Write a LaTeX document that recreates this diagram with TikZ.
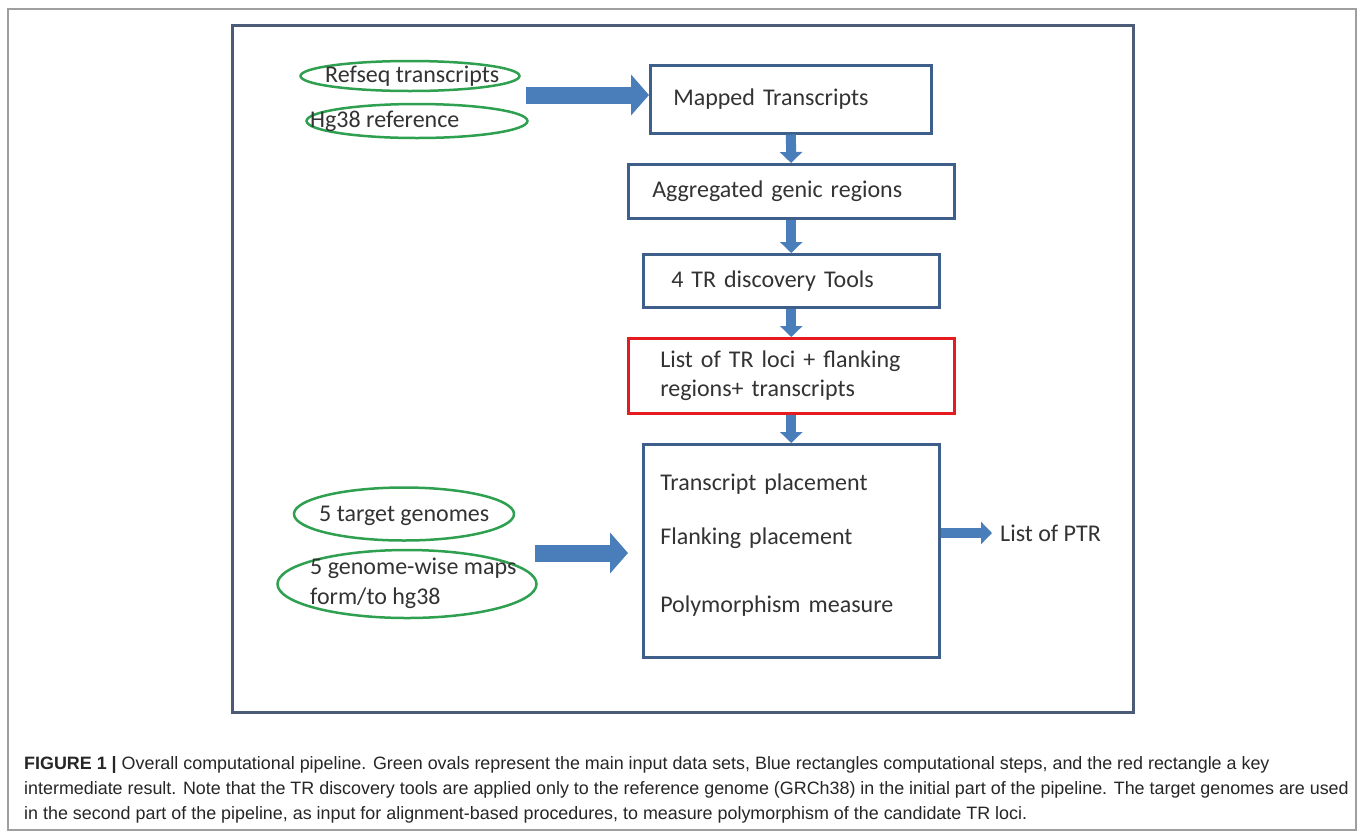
\documentclass[tikz,border=0pt]{standalone}
\usepackage{fontspec}
\setmainfont{Carlito}
\newfontfamily\capfont{Liberation Sans}
\usepackage{tikz}
\usetikzlibrary{arrows.meta,positioning,shapes.geometric}

\definecolor{boxblue}{RGB}{62,95,138}
\definecolor{arrowblue}{RGB}{74,126,187}
\definecolor{ovalgreen}{RGB}{46,160,80}
\definecolor{locired}{RGB}{228,28,32}
\definecolor{frameblue}{RGB}{76,91,120}

\begin{document}
\begin{tikzpicture}[
  x=1pt, y=-1pt,
  font=\fontsize{24}{29}\selectfont,
  text=black!80,
  stepbox/.style={draw=boxblue, line width=2.5pt, align=left, anchor=north west, inner ysep=0pt},
  lociBox/.style={stepbox, draw=locired},
  dataoval/.style={ellipse, draw=ovalgreen, line width=2.5pt, inner sep=0pt},
  ovaltext/.style={anchor=west, inner sep=0pt, align=left},
  flowarrow/.style={draw=arrowblue, line width=10pt, -{Triangle[length=11pt, width=22pt]}},
  bigarrow/.style={draw=arrowblue, line width=17pt, -{Triangle[length=18pt, width=40pt]}}
]
\useasboundingbox (0,0) rectangle (1358,831);
\fill[white] (0,0) rectangle (1358,831);
\draw[gray!75, line width=1.5pt] (8,9) rectangle (1356,830);
\draw[frameblue, line width=3pt] (232,25) rectangle (1133,712);

% input data sets
\node[dataoval, minimum width=219, minimum height=30] (refseq) at (410,76) {};
\node[ovaltext] (refseqtxt) at (325,76) {Refseq transcripts};
\node[dataoval, minimum width=221, minimum height=34] (hgref) at (417,121) {};
\node[ovaltext] (hgreftxt) at (310,121) {Hg38 reference};
\node[dataoval, minimum width=220, minimum height=53] (targets) at (404,514) {};
\node[ovaltext] (targetstxt) at (319,516) {5 target genomes};
\node[dataoval, minimum width=259, minimum height=68] (maps) at (407,584) {};
\node[ovaltext, font=\fontsize{24}{30}\selectfont] (mapstxt) at (310,583) {5 genome-wise maps\\form/to hg38};

% pipeline steps
\node[stepbox, inner xsep=23pt, text width=235, minimum height=68] (mapped) at (649,64) {Mapped Transcripts};
\node[stepbox, inner xsep=24pt, text width=278, minimum height=54] (aggr) at (627,163) {Aggregated genic regions};
\node[stepbox, inner xsep=28pt, text width=240, minimum height=53] (tools) at (642,253) {4 TR discovery Tools};
\node[lociBox, inner xsep=32pt, text width=262, minimum height=75] (loci) at (627,337) {List of TR loci + flanking\\regions+ transcripts};
\node[stepbox, inner xsep=17pt, text width=262, text depth=138pt, minimum height=213] (place) at (642,443) {Transcript placement\\[25pt]Flanking placement\\[39pt]Polymorphism measure};
\node[anchor=west, inner sep=0pt] (ptr) at (1000,533) {List of PTR};

\coordinate (refarrow) at (526,95);
\coordinate (maparrow) at (535,553);
\draw[bigarrow] (refarrow) -- (refarrow -| mapped.west);
\draw[flowarrow] (mapped) -- (aggr);
\draw[flowarrow] (aggr) -- (tools);
\draw[flowarrow] (tools) -- (loci);
\draw[flowarrow] (loci) -- (place);
\draw[bigarrow, shorten >=14pt] (maparrow) -- (maparrow -| place.west);
\draw[flowarrow, shorten >=8pt] (place.east |- ptr.west) -- (ptr.west);

\node[anchor=north west, inner sep=0pt, align=left, text=black!85, font=\capfont\fontsize{17.9}{25}\selectfont] (caption) at (24,756)
  {\textbf{FIGURE 1 |} Overall computational pipeline. Green ovals represent the main input data sets, Blue rectangles computational steps, and the red rectangle a key\\
   intermediate result. Note that the TR discovery tools are applied only to the reference genome (GRCh38) in the initial part of the pipeline. The target genomes are used\\
   in the second part of the pipeline, as input for alignment-based procedures, to measure polymorphism of the candidate TR loci.};
\end{tikzpicture}
\end{document}
